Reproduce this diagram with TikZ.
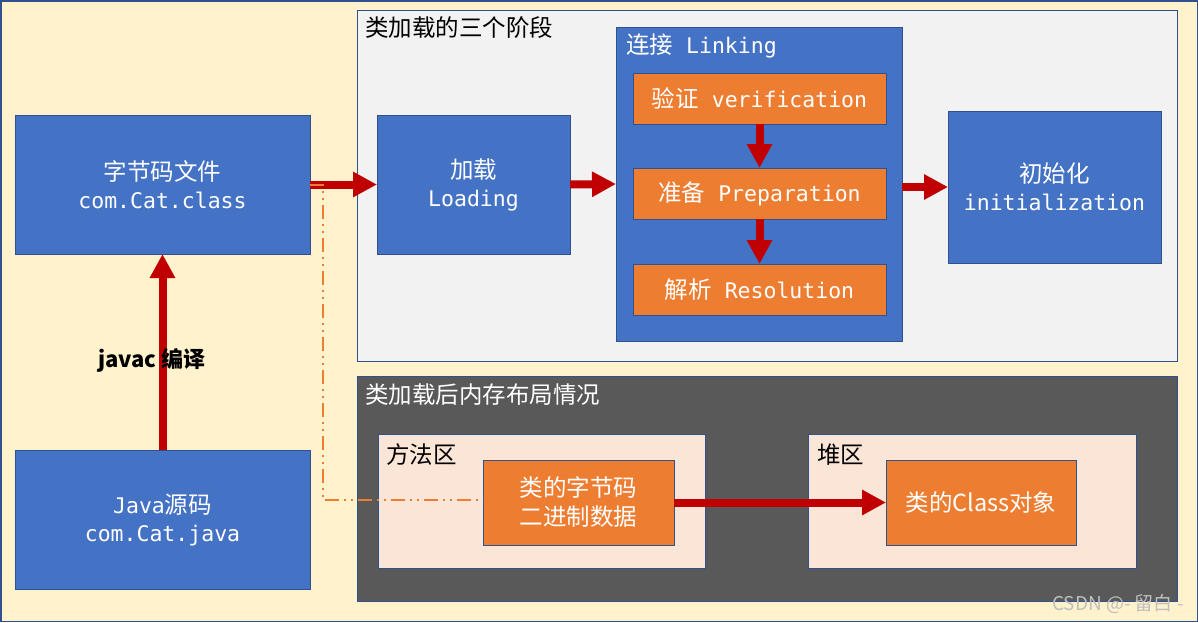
\documentclass[tikz,border=0pt]{standalone}
\usepackage{fontspec}
\setmainfont{Noto Sans CJK SC}
\setmonofont{DejaVu Sans Mono}
\usetikzlibrary{arrows.meta}
\definecolor{bgY}{HTML}{FFF2CC}
\definecolor{bdr}{HTML}{2F528F}
\definecolor{blu}{HTML}{4472C4}
\definecolor{org}{HTML}{ED7D31}
\definecolor{lgray}{HTML}{F2F2F2}
\definecolor{dgray}{HTML}{595959}
\definecolor{peach}{HTML}{FBE5D6}
\definecolor{arr}{HTML}{C00000}
\newcommand\mt[1]{{\ttfamily\fontsize{21.5}{28}\selectfont #1}}
\tikzset{
  box/.style={draw=bdr, line width=1pt, inner sep=0pt, outer sep=0pt, anchor=north west, align=center},
  bluebox/.style={box, fill=blu, text=white, font=\fontsize{23.5}{28}\selectfont},
  orgbox/.style={box, fill=org, text=white, font=\fontsize{23.5}{29}\selectfont},
  panel/.style={box},
  title/.style={anchor=west, inner sep=0pt, font=\fontsize{23.5}{26}\selectfont},
  bigarrow/.style={draw=arr, line width=8pt, -{Triangle[length=24pt,width=24pt]}},
  dashdot/.style={draw=org, line width=1.5pt, dash pattern=on 14pt off 5pt on 2pt off 5pt on 2pt off 5pt}
}
\begin{document}
\begin{tikzpicture}[x=1pt,y=-1pt]
\useasboundingbox (0,0) rectangle (1198,622);
\fill[bgY, draw=bdr, line width=1.5pt] (0.75,0.75) rectangle (1197.25,621.25);
% panels
\node[panel, fill=lgray, minimum width=820pt, minimum height=351pt] (stage) at (357,10) {};
\node[title] (stagetitle) at (365,28) {类加载的三个阶段};
\node[panel, fill=dgray, minimum width=820pt, minimum height=225pt] (mem) at (357,376) {};
\node[title, text=white] (memtitle) at (365,395) {类加载后内存布局情况};
% left boxes
\node[bluebox, minimum width=295pt, minimum height=139pt] (cls) at (15,115) {字节码文件\\\mt{com.Cat.class}};
\node[bluebox, minimum width=295pt, minimum height=139pt] (jsrc) at (15,450) {\mt{Java}源码\\\mt{com.Cat.java}};
% stages
\node[bluebox, minimum width=193pt, minimum height=139pt] (load) at (377,115) {加载\\\mt{Loading}};
\node[box, fill=blu, minimum width=286pt, minimum height=314pt] (link) at (616,27) {};
\node[title, text=white] (linktitle) at (626,46) {连接\mt{\ Linking}};
\node[orgbox, minimum width=253pt, minimum height=51pt] (ver) at (633,73) {验证\mt{\ verification}};
\node[orgbox, minimum width=253pt, minimum height=51pt] (prep) at (633,168) {准备\mt{\ Preparation}};
\node[orgbox, minimum width=253pt, minimum height=51pt] (res) at (633,264) {解析\mt{\ Resolution}};
\node[bluebox, minimum width=213pt, minimum height=152pt] (init) at (948,111) {初始化\\\mt{initialization}};
% memory layout
\node[panel, fill=peach, minimum width=327pt, minimum height=134pt] (method) at (378,434) {};
\node[title] (methodtitle) at (386,455) {方法区};
\node[panel, fill=peach, minimum width=328pt, minimum height=134pt] (heap) at (808,434) {};
\node[title] (heaptitle) at (817,455) {堆区};
\node[orgbox, minimum width=191pt, minimum height=85pt] (byte) at (483,460) {类的字节码\\二进制数据};
\node[orgbox, minimum width=190pt, minimum height=85pt] (cobj) at (886,460) {类的Class对象};
% arrows
\draw[bigarrow] (jsrc.north) -- (cls.south);
\draw[bigarrow] (cls.east) -- (load.west);
\draw[bigarrow] (load.east) -- (link.west);
\draw[bigarrow] (ver.south) -- (prep.north);
\draw[bigarrow] (prep.south) -- (res.north);
\draw[bigarrow] (link.east |- init.west) -- (init.west);
\draw[bigarrow] (byte.east) -- (cobj.west);
\node[inner sep=0pt, font=\fontsize{22}{26}\selectfont\bfseries] (javac) at (152,360) {javac 编译};
% dash-dot link
\coordinate (c1) at (323,185);
\coordinate (c2) at (323,500);
\draw[dashdot] (cls.east |- c1) -- (c1) -- (c2) -- (c2 -| byte.west);
% watermark
\node[anchor=east, inner sep=0pt, text=black!25, font=\fontsize{19}{21}\selectfont] (wm) at (1184,604) {CSDN @-\ 留白\ -};
\end{tikzpicture}
\end{document}
